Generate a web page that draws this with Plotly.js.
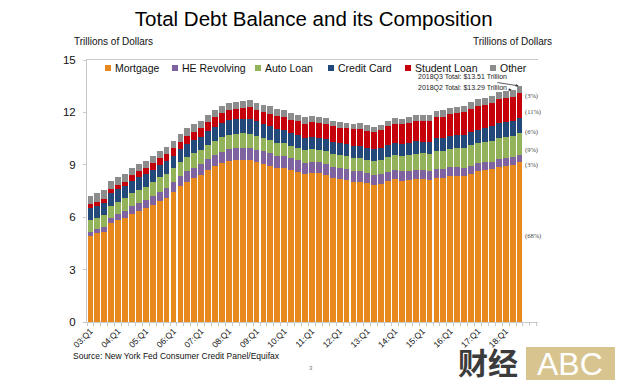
<!DOCTYPE html>
<html>
<head>
<meta charset="utf-8">
<script src="https://cdn.plot.ly/plotly-3.0.1.min.js"></script>
<style>
  html, body { margin: 0; padding: 0; background: #fff; }
  #chart { width: 625px; height: 386px; }
</style>
</head>
<body>
<div id="chart"></div>
<script>
// ---------- DATA (trillions of dollars) ----------
const quarters = [
  "03:Q1","03:Q2","03:Q3","03:Q4","04:Q1","04:Q2","04:Q3","04:Q4",
  "05:Q1","05:Q2","05:Q3","05:Q4","06:Q1","06:Q2","06:Q3","06:Q4",
  "07:Q1","07:Q2","07:Q3","07:Q4","08:Q1","08:Q2","08:Q3","08:Q4",
  "09:Q1","09:Q2","09:Q3","09:Q4","10:Q1","10:Q2","10:Q3","10:Q4",
  "11:Q1","11:Q2","11:Q3","11:Q4","12:Q1","12:Q2","12:Q3","12:Q4",
  "13:Q1","13:Q2","13:Q3","13:Q4","14:Q1","14:Q2","14:Q3","14:Q4",
  "15:Q1","15:Q2","15:Q3","15:Q4","16:Q1","16:Q2","16:Q3","16:Q4",
  "17:Q1","17:Q2","17:Q3","17:Q4","18:Q1","18:Q2","18:Q3"
];
const tickLabels = ["03:Q1","04:Q1","05:Q1","06:Q1","07:Q1","08:Q1","09:Q1","10:Q1",
  "11:Q1","12:Q1","13:Q1","14:Q1","15:Q1","16:Q1","17:Q1","18:Q1"];

const mortgage = [4.94,5.08,5.18,5.66, 5.84,5.97,6.21,6.36, 6.51,6.70,6.91,7.10, 7.44,7.76,8.04,8.23,
  8.42,8.71,8.93,9.10, 9.23,9.27,9.29,9.26, 9.14,9.06,8.94,8.84, 8.83,8.70,8.61,8.45,
  8.54,8.52,8.40,8.27, 8.19,8.15,8.03,8.03, 7.93,7.84,7.90,8.05, 8.17,8.10,8.13,8.17,
  8.17,8.12,8.26,8.25, 8.37,8.36,8.35,8.48, 8.63,8.69,8.74,8.88, 8.94,9.00,9.14];
const heRevolving = [0.24,0.26,0.27,0.30, 0.33,0.37,0.43,0.47, 0.50,0.53,0.54,0.57, 0.58,0.59,0.60,0.60,
  0.61,0.62,0.63,0.65, 0.66,0.68,0.69,0.71, 0.71,0.71,0.71,0.69, 0.68,0.68,0.67,0.66,
  0.64,0.63,0.64,0.63, 0.62,0.61,0.60,0.59, 0.58,0.57,0.55,0.54, 0.53,0.53,0.52,0.51,
  0.51,0.51,0.51,0.49, 0.49,0.49,0.48,0.47, 0.46,0.45,0.44,0.44, 0.44,0.43,0.42];
const autoLoan = [0.64,0.62,0.68,0.70, 0.72,0.74,0.75,0.73, 0.73,0.77,0.83,0.79, 0.79,0.80,0.82,0.82,
  0.79,0.81,0.82,0.82, 0.82,0.82,0.82,0.81, 0.79,0.77,0.75,0.74, 0.72,0.70,0.71,0.71,
  0.71,0.72,0.73,0.73, 0.74,0.75,0.77,0.78, 0.79,0.81,0.84,0.86, 0.88,0.90,0.93,0.96,
  0.97,1.00,1.03,1.06, 1.07,1.10,1.14,1.16, 1.17,1.19,1.21,1.22, 1.23,1.24,1.27];
const creditCard = [0.69,0.69,0.69,0.70, 0.70,0.70,0.71,0.72, 0.71,0.72,0.73,0.74, 0.72,0.74,0.75,0.77,
  0.76,0.78,0.80,0.82, 0.83,0.84,0.85,0.87, 0.84,0.82,0.81,0.80, 0.76,0.74,0.73,0.73,
  0.70,0.69,0.69,0.70, 0.68,0.67,0.67,0.68, 0.67,0.67,0.67,0.68, 0.66,0.67,0.68,0.70,
  0.68,0.70,0.71,0.73, 0.71,0.73,0.75,0.78, 0.76,0.78,0.81,0.83, 0.82,0.83,0.84];
const studentLoan = [0.24,0.24,0.25,0.25, 0.26,0.26,0.33,0.35, 0.36,0.37,0.38,0.39, 0.43,0.44,0.45,0.48,
  0.51,0.51,0.54,0.55, 0.58,0.58,0.61,0.64, 0.66,0.68,0.72,0.72, 0.76,0.76,0.78,0.81,
  0.84,0.84,0.87,0.87, 0.90,0.91,0.96,0.97, 0.99,0.99,1.03,1.08, 1.11,1.12,1.13,1.16,
  1.19,1.19,1.20,1.23, 1.26,1.26,1.28,1.31, 1.34,1.34,1.36,1.38, 1.41,1.41,1.44];
const other = [0.48,0.49,0.48,0.45, 0.45,0.42,0.41,0.42, 0.39,0.40,0.41,0.42, 0.42,0.42,0.44,0.42,
  0.43,0.42,0.42,0.44, 0.41,0.42,0.41,0.41, 0.41,0.40,0.41,0.40, 0.39,0.38,0.37,0.37,
  0.35,0.35,0.33,0.33, 0.33,0.32,0.32,0.33, 0.31,0.31,0.31,0.32, 0.32,0.32,0.33,0.35,
  0.33,0.34,0.36,0.37, 0.36,0.36,0.37,0.38, 0.38,0.39,0.40,0.40, 0.41,0.38,0.40];

const seriesNames = ["Mortgage","HE Revolving","Auto Loan","Credit Card","Student Loan","Other"];
const seriesValues = [mortgage, heRevolving, autoLoan, creditCard, studentLoan, other];
const shareLabels = ["(68%)","(3%)","(9%)","(6%)","(11%)","(3%)"];
const totalLabels = {q3: "2018Q3 Total: $13.51 Trillion", q2: "2018Q2 Total: $13.29 Trillion"};

// ---------- STYLE ----------
const colors = ["#E8891E","#7F63A1","#93B35A","#22497A","#C5000B","#8C8C8C"];
const FONT = "Liberation Sans, Arial, Helvetica, sans-serif";

// pixel -> paper helpers (plot area 87..538 x 60..322)
const PL = 87, PR = 538, PT = 60, PB = 322;
const fx = px => (px - PL) / (PR - PL);
const fy = py => (PB - py) / (PB - PT);

const xIdx = quarters.map((q, i) => i);

const traces = seriesNames.map((name, k) => ({
  type: "bar",
  name: name,
  x: xIdx,
  y: seriesValues[k],
  marker: {color: colors[k], line: {width: 0}},
  hovertext: quarters,
  showlegend: false
}));

const totals = quarters.map((q, i) => seriesValues.reduce((s, arr) => s + arr[i], 0));
const last = quarters.length - 1;

const annotations = [];
const shapes = [];

// Axis unit captions
annotations.push({xref:"paper", yref:"paper", x: fx(72), y: fy(41), xanchor:"left", yanchor:"middle",
  text:"Trillions of Dollars", showarrow:false, font:{family:FONT, size:10, color:"#111"}});
annotations.push({xref:"paper", yref:"paper", x: fx(554), y: fy(41), xanchor:"right", yanchor:"middle",
  text:"Trillions of Dollars", showarrow:false, font:{family:FONT, size:10, color:"#111"}});

// Legend (custom, compact like the original)
const legMarkX = [108, 175, 258, 331, 408, 493];
const legY = 68;
seriesNames.forEach((name, k) => {
  shapes.push({type:"rect", xref:"paper", yref:"paper",
    x0: fx(legMarkX[k]-3), x1: fx(legMarkX[k]+3), y0: fy(legY+3), y1: fy(legY-3),
    fillcolor: colors[k], line:{width:0}});
  annotations.push({xref:"paper", yref:"paper", x: fx(legMarkX[k]+5), y: fy(legY), xanchor:"left", yanchor:"middle",
    text: name, showarrow:false, font:{family:FONT, size:10.5, color:"#111"}});
});

// Share labels next to last bar
let cum = 0;
seriesValues.forEach((arr, k) => {
  const mid = cum + arr[last] / 2;
  cum += arr[last];
  annotations.push({xref:"paper", yref:"y", x: fx(523), y: mid, xanchor:"left", yanchor:"middle",
    yshift: k === 0 ? 6 : -6,
    text: shareLabels[k], showarrow:false, font:{family:"Liberation Serif, Times New Roman, serif", size:6.5, color:"#444"}});
});

// Total callouts with arrows
annotations.push({xref:"x", yref:"y", x: last, y: totals[last], ax: -57, ay: -9,
  text: totalLabels.q3, showarrow:true, arrowhead:2, arrowsize:0.7, arrowwidth:0.8, arrowcolor:"#333", standoff:1,
  font:{family:FONT, size:7, color:"#222"}});
annotations.push({xref:"x", yref:"y", x: last-1, y: totals[last-1], ax: -50, ay: -2,
  text: totalLabels.q2, showarrow:true, arrowhead:2, arrowsize:0.7, arrowwidth:0.8, arrowcolor:"#333", standoff:1,
  font:{family:FONT, size:7, color:"#222"}});

// Source
annotations.push({xref:"paper", yref:"paper", x: fx(71), y: fy(356), xanchor:"left", yanchor:"middle",
  text:"Source: New York Fed Consumer Credit Panel/Equifax", showarrow:false, font:{family:FONT, size:8.5, color:"#111"}});
// page number
annotations.push({xref:"paper", yref:"paper", x: fx(311), y: fy(368), xanchor:"center", yanchor:"middle",
  text:"3", showarrow:false, font:{family:FONT, size:6, color:"#777"}});

// Watermark
shapes.push({type:"rect", xref:"paper", yref:"paper", x0: fx(526), x1: fx(615), y0: fy(380), y1: fy(347),
  fillcolor:"#D8C48F", line:{width:0}, layer:"above"});
annotations.push({xref:"paper", yref:"paper", x: fx(570), y: fy(363.5), xanchor:"center", yanchor:"middle",
  text:"ABC", showarrow:false, font:{family:FONT, size:32, color:"#ffffff"}});
annotations.push({xref:"paper", yref:"paper", x: fx(488), y: fy(361), xanchor:"center", yanchor:"middle",
  text:"<b>财经</b>", showarrow:false, font:{family:"Noto Sans CJK SC, sans-serif", size:30, color:"#3b3b3b"}});

const tickVals = tickLabels.map(t => quarters.indexOf(t));

const layout = {
  width: 625, height: 386,
  margin: {l: PL, r: 625 - PR, t: PT, b: 386 - PB, pad: 0},
  paper_bgcolor: "#fff", plot_bgcolor: "#fff",
  barmode: "stack",
  bargap: 0.16,
  showlegend: false,
  title: {text: "Total Debt Balance and its Composition", x: 0.502, xanchor: "center",
    y: 1 - 19/386, yanchor: "middle", font: {family: FONT, size: 20.5, color: "#000"}},
  xaxis: {
    range: [-0.5, 64.67], showgrid: false, zeroline: false,
    showline: true, linecolor: "#C8C8C8", linewidth: 1, mirror: true,
    tickmode: "array", tickvals: tickVals, ticktext: tickLabels,
    tickangle: -45, ticks: "", tickfont: {family: FONT, size: 8.5, color: "#111"},
    minor: {tickmode: "linear", tick0: -0.5, dtick: 1, ticks: "outside", ticklen: 3, tickcolor: "#C8C8C8"}
  },
  yaxis: {
    range: [0, 15], dtick: 3, tick0: 0, showgrid: false, zeroline: false,
    showline: true, linecolor: "#C8C8C8", linewidth: 1,
    ticks: "outside", ticklen: 3, tickcolor: "#C8C8C8", ticklabelstandoff: 5,
    tickfont: {family: FONT, size: 11.5, color: "#111"}
  },
  yaxis2: {
    range: [0, 15], dtick: 3, tick0: 0, overlaying: "y", side: "right",
    showgrid: false, zeroline: false, showline: true, linecolor: "#C8C8C8", linewidth: 1,
    ticks: "inside", ticklen: 3, tickcolor: "#C8C8C8", ticklabelstandoff: 9,
    tickfont: {family: FONT, size: 11.5, color: "#111"}
  },
  annotations: annotations,
  shapes: shapes
};

Plotly.newPlot("chart", traces, layout, {displayModeBar: false, staticPlot: true});
</script>
</body>
</html>
